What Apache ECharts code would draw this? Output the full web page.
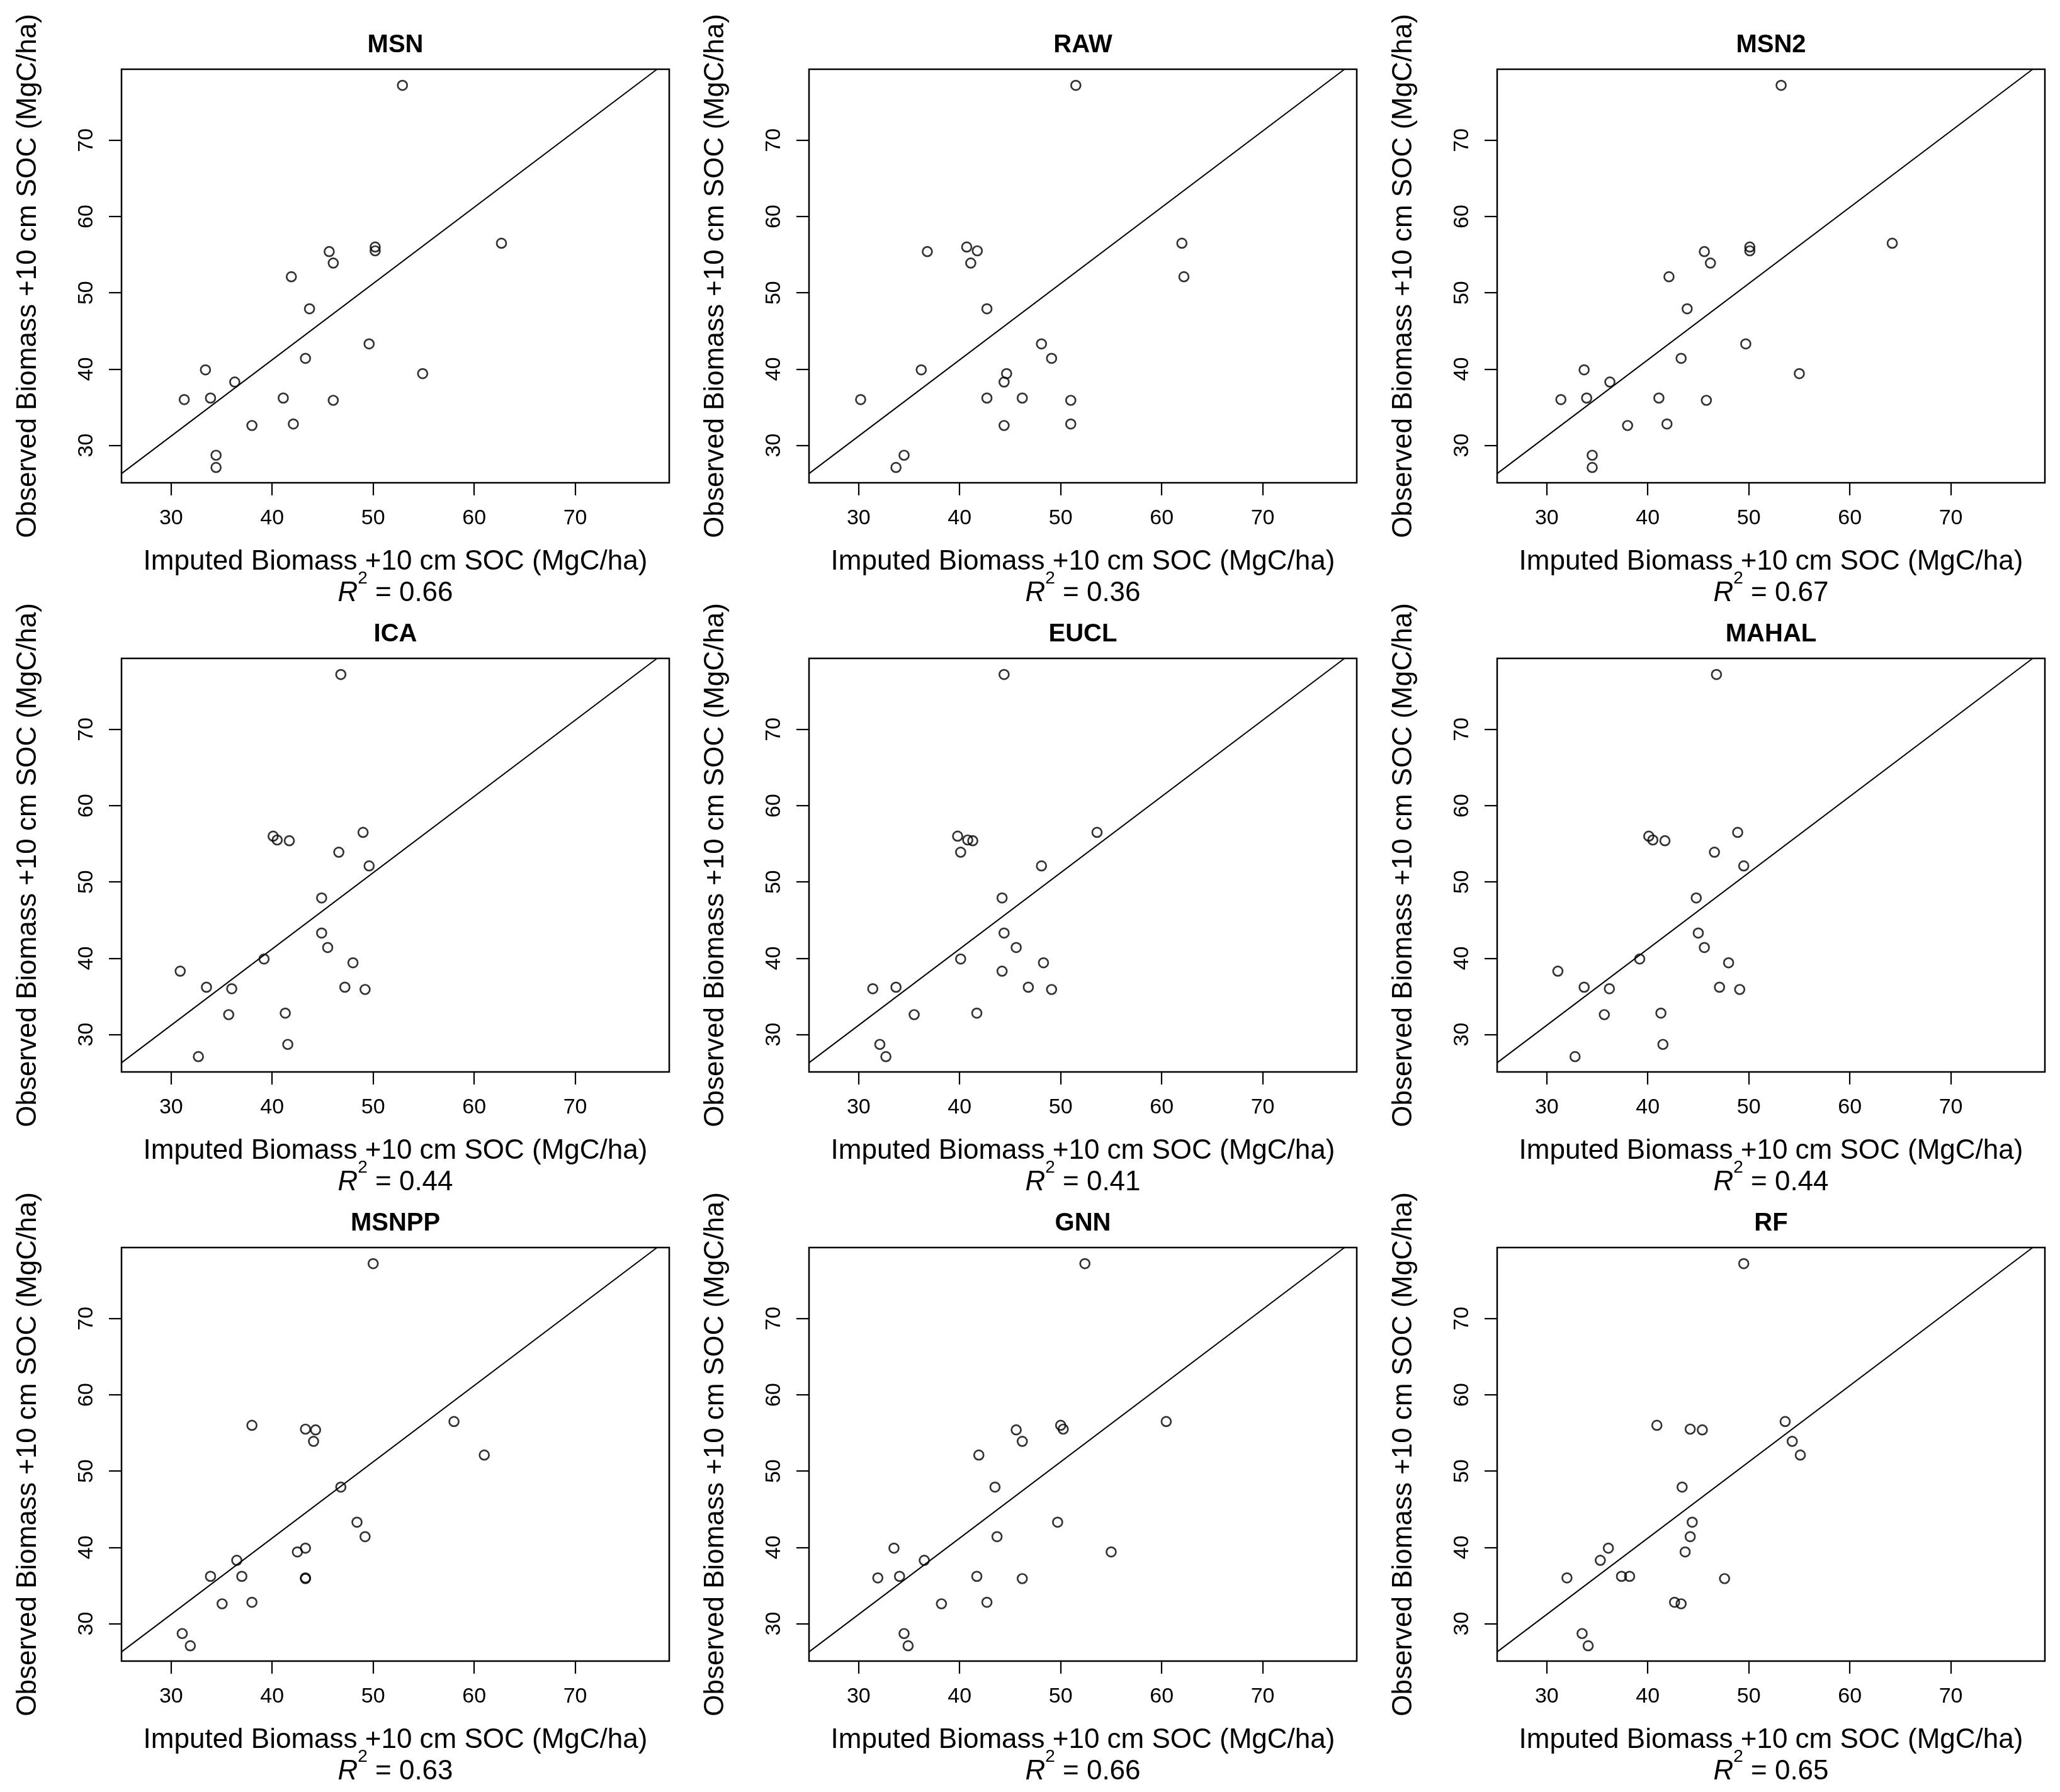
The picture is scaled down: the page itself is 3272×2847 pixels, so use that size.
<!DOCTYPE html>
<html>
<head>
<meta charset="utf-8">
<title>Observed vs imputed biomass + 10 cm SOC</title>
<script src="https://cdn.jsdelivr.net/npm/echarts@6/dist/echarts.min.js"></script>
<style>
  html, body { margin: 0; padding: 0; background: #fff; }
  #chart { width: 3272px; height: 2847px; }
</style>
</head>
<body>
<div id="chart"></div>
<script>
// observed values, shared by every panel (same plots, different imputation method)
const observed = [77.2, 56.5, 56.0, 55.5, 55.4, 53.9, 52.1, 47.9, 43.3, 41.4, 39.9,
  39.4, 38.3, 36.2, 36.2, 36.0, 35.9, 32.8, 32.6, 28.7, 27.1];

// imputed values, same order as observed
const msn = [52.9, 62.7, 50.2, 50.2, 45.65, 46.05, 41.9, 43.7, 49.6, 43.3, 33.4,
  54.9, 36.3, 33.9, 41.1, 31.3, 46.05, 42.1, 38.0, 34.45, 34.45];
const raw = [51.5, 62.0, 40.7, 41.75, 36.8, 41.1, 62.2, 42.7, 48.1, 49.1, 36.2,
  44.65, 44.4, 42.7, 46.2, 30.2, 51.0, 51.0, 44.4, 34.5, 33.7];
const msn2 = [53.2, 64.2, 50.1, 50.1, 45.6, 46.2, 42.1, 43.9, 49.7, 43.3, 33.7,
  55.0, 36.25, 33.95, 41.1, 31.4, 45.8, 41.9, 38.0, 34.5, 34.5];
const ica = [46.8, 49.0, 40.1, 40.5, 41.7, 46.6, 49.6, 44.9, 44.9, 45.5, 39.2,
  48.0, 30.9, 33.5, 47.2, 36.0, 49.2, 41.3, 35.7, 41.55, 32.7];
const eucl = [44.4, 53.6, 39.8, 40.8, 41.3, 40.1, 48.1, 44.2, 44.4, 45.6, 40.1,
  48.3, 44.2, 33.7, 46.8, 31.4, 49.1, 41.7, 35.5, 32.1, 32.7];
const mahal = [46.8, 48.9, 40.1, 40.5, 41.7, 46.6, 49.5, 44.8, 45.0, 45.6, 39.2,
  48.0, 31.1, 33.7, 47.1, 36.2, 49.1, 41.3, 35.7, 41.5, 32.8];
const msnpp = [50.0, 58.0, 38.0, 43.3, 44.3, 44.1, 61.0, 46.8, 48.4, 49.2, 43.3,
  42.5, 36.5, 33.9, 37.0, 43.3, 43.3, 38.0, 35.05, 31.1, 31.9];
const gnn = [52.4, 60.45, 50.0, 50.25, 45.6, 46.2, 41.9, 43.5, 49.7, 43.7, 33.5,
  55.0, 36.5, 34.05, 41.7, 31.9, 46.2, 42.7, 38.2, 34.5, 34.9];
const rf = [49.5, 53.6, 40.9, 44.2, 45.4, 54.3, 55.1, 43.4, 44.4, 44.2, 36.1,
  43.7, 35.3, 37.4, 38.2, 32.0, 47.6, 42.65, 43.3, 33.5, 34.1];

const methods = ['MSN', 'RAW', 'MSN2', 'ICA', 'EUCL', 'MAHAL', 'MSNPP', 'GNN', 'RF'];
const imputed = [msn, raw, msn2, ica, eucl, mahal, msnpp, gnn, rf];
const rSquared = ['0.66', '0.36', '0.67', '0.44', '0.41', '0.44', '0.63', '0.66', '0.65'];

// both axes share the same limits
const axisMin = 25.09;
const axisMax = 79.31;
const tickValues = [30, 40, 50, 60, 70];
// reference line end points
const lineX = [25.09, 78.1];
const lineY = [26.3, 79.31];

const FONT = '"Liberation Sans", Arial, Helvetica, sans-serif';
const COL_LEFT = [193, 1285, 2378];
const ROW_TOP = [110, 1046, 1982];
const BOX_W = 870;
const BOX_H = 657;

const grid = [];
const xAxis = [];
const yAxis = [];
const series = [];
const graphic = [];

methods.forEach((name, i) => {
  const left = COL_LEFT[i % 3];
  const top = ROW_TOP[Math.floor(i / 3)];
  const cx = left + BOX_W / 2;

  grid.push({
    left: left, top: top, width: BOX_W, height: BOX_H,
    show: true, borderColor: '#000', borderWidth: 2.5, containLabel: false
  });

  const axisBase = {
    type: 'value', gridIndex: i, min: axisMin, max: axisMax,
    axisLine: { show: false },
    splitLine: { show: false },
    axisTick: {
      show: true, inside: false, length: 20, customValues: tickValues,
      lineStyle: { color: '#000', width: 2.2 }
    },
    nameTextStyle: { color: '#000', fontFamily: FONT, fontSize: 44 },
    nameLocation: 'middle'
  };

  xAxis.push(Object.assign({}, axisBase, {
    name: 'Imputed Biomass +10 cm SOC (MgC/ha)',
    nameGap: 104,
    axisLabel: {
      customValues: tickValues, margin: 40,
      color: '#000', fontFamily: FONT, fontSize: 34
    }
  }));

  yAxis.push(Object.assign({}, axisBase, {
    name: 'Observed Biomass +10 cm SOC (MgC/ha)',
    nameGap: 126,
    nameRotate: 90,
    axisLabel: {
      customValues: tickValues, margin: 38, rotate: 90,
      color: '#000', fontFamily: FONT, fontSize: 34
    }
  }));

  series.push({
    type: 'line', xAxisIndex: i, yAxisIndex: i,
    data: lineX.map((x, k) => [x, lineY[k]]),
    symbol: 'none', silent: true,
    lineStyle: { color: '#000', width: 2 }
  });

  series.push({
    type: 'scatter', xAxisIndex: i, yAxisIndex: i,
    data: imputed[i].map((x, k) => [x, observed[k]]),
    symbol: 'circle', symbolSize: 15,
    itemStyle: { color: 'rgba(0,0,0,0)', borderColor: '#000', borderWidth: 2.7 }
  });

  graphic.push({
    type: 'text', x: cx, y: top - 38,
    style: {
      text: name, fill: '#000', align: 'center', verticalAlign: 'middle',
      font: 'bold 40px ' + FONT
    }
  });

  graphic.push({
    type: 'text', x: cx, y: top + BOX_H + 176,
    style: {
      text: '{r|R}{s|2}{n| = ' + rSquared[i] + '}',
      align: 'center', verticalAlign: 'middle', fill: '#000',
      font: '44px ' + FONT,
      rich: {
        r: { fontStyle: 'italic', fontSize: 44, fontFamily: FONT, fill: '#000' },
        s: { fontSize: 28, fontFamily: FONT, fill: '#000', padding: [0, 0, 48, 0] },
        n: { fontSize: 44, fontFamily: FONT, fill: '#000' }
      }
    }
  });
});

const chart = echarts.init(document.getElementById('chart'), null, { renderer: 'canvas' });
chart.setOption({
  animation: false,
  backgroundColor: '#fff',
  grid: grid,
  xAxis: xAxis,
  yAxis: yAxis,
  series: series,
  graphic: graphic
});
</script>
</body>
</html>
